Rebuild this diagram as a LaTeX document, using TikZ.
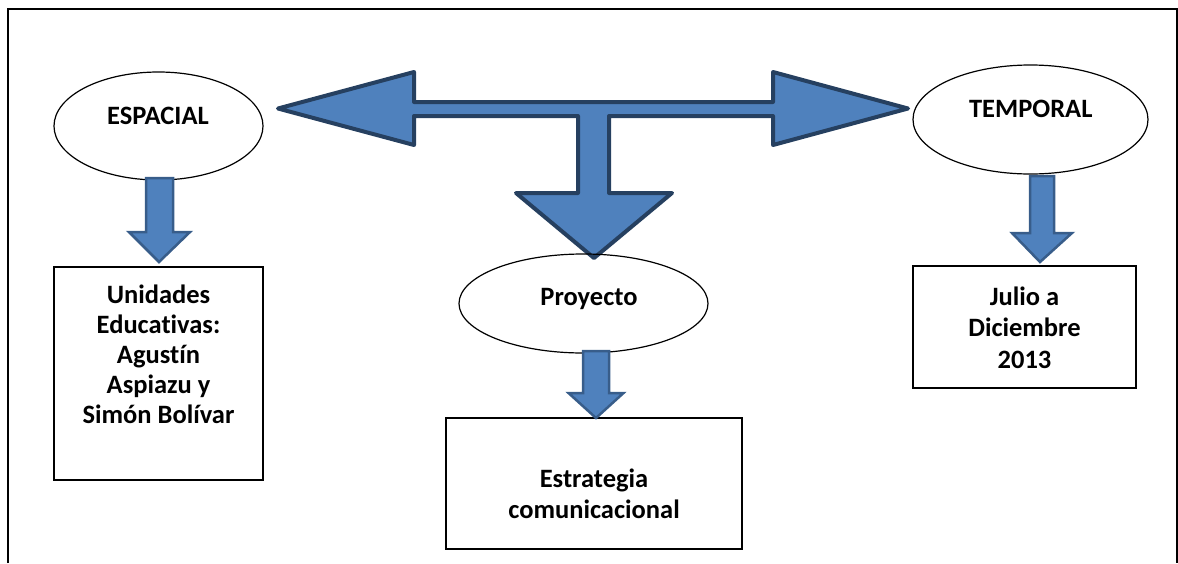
\documentclass[tikz,border=0pt]{standalone}
\usepackage{fontspec}
\setmainfont{Carlito}[Ligatures=NoCommon]
\usetikzlibrary{shapes.geometric,calc}
\definecolor{arrowfill}{HTML}{4F81BD}
\definecolor{bigedge}{HTML}{264060}
\definecolor{smalledge}{HTML}{385D8A}
\tikzset{
  ell/.style={ellipse, draw=black, line width=1.2pt, fill=white, inner sep=0pt},
  boxnode/.style={rectangle, draw=black, line width=1.5pt, inner sep=0pt},
  lbl/.style={font=\fontsize{26.5}{30}\selectfont\bfseries, align=center, inner sep=0pt, anchor=base},
  bigarrow/.style={fill=arrowfill, draw=bigedge, line width=4pt, line join=round},
  smallarrow/.style={fill=arrowfill, draw=smalledge, line width=2.5pt, line join=miter},
  frameline/.style={draw=black, line width=2pt},
}
% #1 top point, #2 tip point, #3 shaft half width, #4 head half width, #5 head length
\newcommand{\blockdown}[5]{%
  \draw[smallarrow] let \p1=(#1), \p2=(#2) in
    (\x1-#3pt,\y1) -- (\x1+#3pt,\y1) -- (\x1+#3pt,\y2+#5pt) -- (\x1+#4pt,\y2+#5pt)
    -- (\x2,\y2) -- (\x1-#4pt,\y2+#5pt) -- (\x1-#3pt,\y2+#5pt) -- cycle;}
\begin{document}
\begin{tikzpicture}[x=1pt,y=-1pt]
\useasboundingbox (0,0) rectangle (1178,563);
% outer frame (open at the bottom)
\draw[frameline] (8,563) -- (8,8.5) -- (1176.5,8.5) -- (1176.5,563);

% ellipses
\node[ell, minimum width=209pt, minimum height=108pt] (espacial) at (158.5,126) {};
\node[lbl] (espacialtxt) at (158,124) {ESPACIAL};
\node[ell, minimum width=235pt, minimum height=109pt] (temporal) at (1030.5,119.5) {};
\node[lbl] (temporaltxt) at (1030.8,117) {TEMPORAL};

% boxes (multi-line labels: base anchor = baseline of the last line)
\node[boxnode, minimum width=209pt, minimum height=213pt] (unid) at (158.5,373.5) {};
\node[lbl] (unidtxt) at (158.5,423) {Unidades\\Educativas:\\Agustín\\Aspiazu y\\Simón Bolívar};
\node[boxnode, minimum width=223pt, minimum height=122pt] (julio) at (1024.5,327) {};
\node[lbl, font=\fontsize{26.5}{31.5}\selectfont\bfseries] (juliotxt) at (1024.5,368) {Julio a\\Diciembre\\2013};
\node[boxnode, minimum width=296pt, minimum height=131pt] (estr) at (594,483.5) {};
\node[lbl, font=\fontsize{26.5}{31}\selectfont\bfseries] (estrtxt) at (594,518) {Estrategia\\comunicacional};

% small block arrows
\coordinate (a1top) at (159.5,178);
\coordinate (a1tip) at (159,262);
\blockdown{a1top}{a1tip}{13.5}{30.5}{30}
\coordinate (a3top) at (1042,176);
\coordinate (a3tip) at (1040,262);
\blockdown{a3top}{a3tip}{12}{30}{29}

% big T arrow
\draw[bigarrow] (278,108.5) -- (414,72) -- (414,102) -- (773,102) -- (773,72)
  -- (908,108.5) -- (773,145) -- (773,116) -- (609,116) -- (609,193) -- (672,193)
  -- (594,258) -- (516,193) -- (578,193) -- (578,116) -- (414,116) -- (414,145) -- cycle;

% proyecto ellipse (drawn after the big arrow: the tip sits beneath its outline)
\node[ell, fill=none, minimum width=249pt, minimum height=99pt] (proyecto) at (583.5,303.5) {};
\node[lbl] (proyectotxt) at (589,305) {Proyecto};
\coordinate (a2top) at (596,351);
\coordinate (a2tip) at (596,418);
\blockdown{a2top}{a2tip}{13}{27.5}{25}
\end{tikzpicture}
\end{document}
